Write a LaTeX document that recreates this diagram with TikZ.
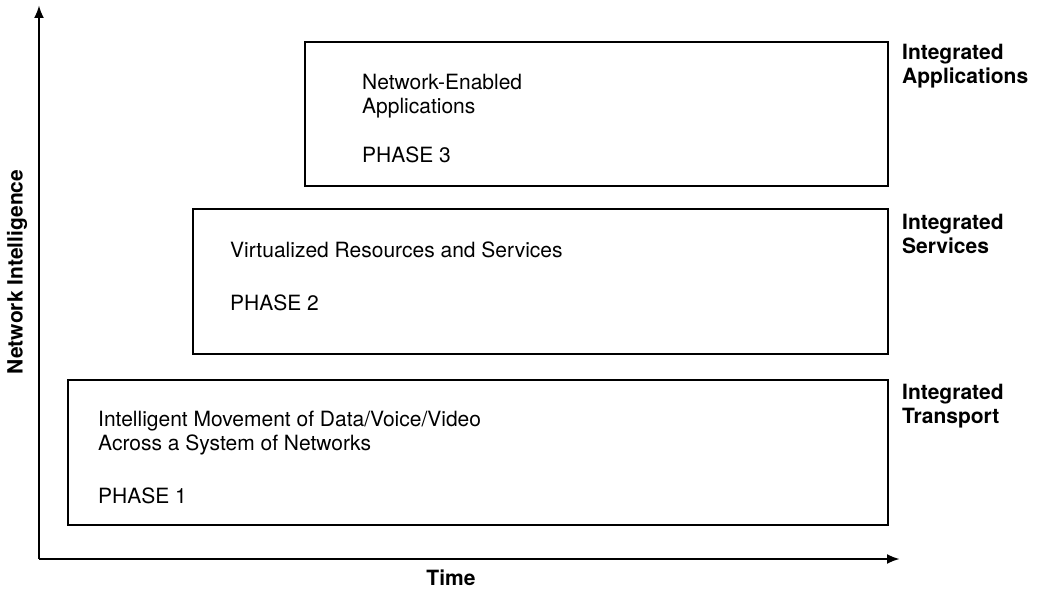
\documentclass[tikz,border=0pt]{standalone}
\usepackage{fontspec}
\setmainfont{TeX Gyre Heros}
\usetikzlibrary{arrows.meta}

\begin{document}
\begin{tikzpicture}[x=1pt,y=-1pt,
		phasebox/.style={line width=2pt},
		axis/.style={line width=2.6pt,-{Latex[length=13pt,width=10pt]}},
		boxtext/.style={anchor=north west,inner sep=0pt,align=left,font=\fontsize{21}{24}\selectfont},
		sidelabel/.style={anchor=north west,inner sep=0pt,align=left,font=\fontsize{21}{23.5}\selectfont\bfseries}]
				\useasboundingbox (0,0) rectangle (1037,591);
				% axes
				\coordinate (origin) at (39,559);
				\coordinate (ytip) at (39,5);
				\coordinate (xtip) at (900,559);
				\draw[axis] (origin)--(ytip);
				\draw[axis] (origin)--(xtip);
				\node[font=\fontsize{21}{24}\selectfont\bfseries] (time) at (451,578) {Time};
				\node[font=\fontsize{21}{24}\selectfont\bfseries,rotate=90] (intel) at (17,272) {Network Intelligence};
				% phase 3
				\draw[phasebox] (305,42) rectangle (888,186);
				\node[boxtext] (apps) at (362,74) {Network-Enabled\\Applications};
				\node[boxtext] (phase3) at (362,147) {PHASE 3};
				\node[sidelabel] (intapps) at (902,44) {Integrated\\Applications};
				% phase 2
				\draw[phasebox] (193,209) rectangle (888,354);
				\node[boxtext] (virt) at (230,242) {Virtualized Resources and Services};
				\node[boxtext] (phase2) at (230,295) {PHASE 2};
				\node[sidelabel] (intserv) at (902,214) {Integrated\\Services};
				% phase 1
				\draw[phasebox] (68,380) rectangle (888,525);
				\node[boxtext] (move) at (98,411) {Intelligent Movement of Data/Voice/Video\\Across a System of Networks};
				\node[boxtext] (phase1) at (98,488) {PHASE 1};
				\node[sidelabel] (inttrans) at (902,384) {Integrated\\Transport};
\end{tikzpicture}
\end{document}
